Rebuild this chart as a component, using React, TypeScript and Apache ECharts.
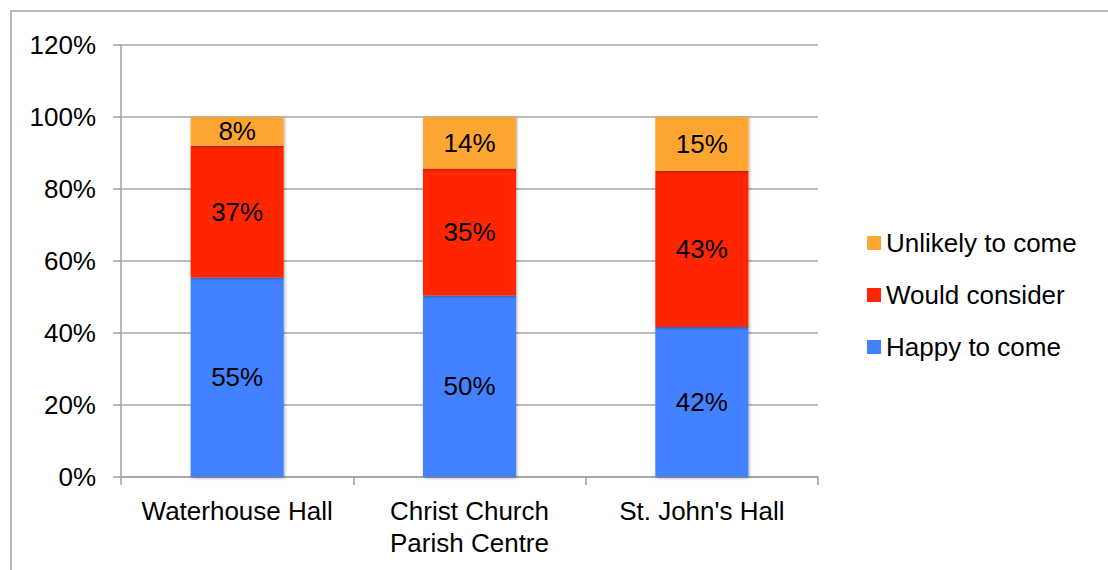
import React, { useEffect, useRef } from "react";
import * as echarts from "echarts";

const categories = ["Waterhouse Hall", "Christ Church\nParish Centre", "St. John's Hall"];
const happyToCome = [55.4, 50.4, 41.7];
const wouldConsider = [36.6, 35.3, 43.3];
const unlikelyToCome = [8.0, 14.3, 15.0];
const yTicks = [0, 20, 40, 60, 80, 100, 120];

const FONT = "'Liberation Sans', Arial, Helvetica, sans-serif";
const FS = 26;

export default function App() {
  const ref = useRef<HTMLDivElement>(null);
  useEffect(() => {
    if (!ref.current) return;
    const chart = echarts.init(ref.current, null, { renderer: "svg" });
    const labelStyle = {
      show: true,
      position: "inside" as const,
      color: "#000",
      fontSize: FS,
      fontFamily: FONT,
      formatter: (p: any) => Math.round(p.value) + "%",
    };
    const barShadow = {
      shadowBlur: 3,
      shadowColor: "rgba(0,0,0,0.35)",
      shadowOffsetX: 1,
      shadowOffsetY: 1,
    };
    const mk = (name: string, data: number[], color: string) => ({
      name,
      type: "bar",
      stack: "total",
      data,
      barWidth: 93,
      itemStyle: { color, ...barShadow },
      label: labelStyle,
    });
    chart.setOption({
      animation: false,
      backgroundColor: "#fff",
      textStyle: { fontFamily: FONT },
      graphic: [
        {
          type: "rect",
          shape: { x: 11, y: 11, width: 1200, height: 700 },
          style: { fill: "none", stroke: "#a3a3a3", lineWidth: 1.5 },
          silent: true,
        },
      ],
      grid: { left: 121, right: 290, top: 45, bottom: 93, containLabel: false },
      legend: {
        orient: "vertical",
        left: 862,
        top: 225,
        itemWidth: 14,
        itemHeight: 14,
        itemGap: 26,
        icon: "rect",
        data: ["Unlikely to come", "Would consider", "Happy to come"],
        textStyle: { fontSize: FS, color: "#000", fontFamily: FONT },
      },
      xAxis: {
        type: "category",
        data: categories,
        axisLine: { lineStyle: { color: "#a0a0a0", width: 1.5 } },
        axisTick: { show: true, length: 8, lineStyle: { color: "#a0a0a0", width: 1.5 } },
        axisLabel: {
          color: "#000",
          fontSize: FS,
          fontFamily: FONT,
          margin: 18,
          lineHeight: 32,
          interval: 0,
        },
      },
      yAxis: {
        type: "value",
        min: yTicks[0],
        max: yTicks[yTicks.length - 1],
        interval: 20,
        axisLine: { show: true, lineStyle: { color: "#a0a0a0", width: 1.5 } },
        axisTick: { show: true, length: 8, lineStyle: { color: "#a0a0a0", width: 1.5 } },
        splitLine: { show: true, lineStyle: { color: "#a6a6a6", width: 1.5 } },
        axisLabel: {
          color: "#000",
          fontSize: FS,
          fontFamily: FONT,
          margin: 25,
          formatter: (v: number) => v + "%",
        },
      },
      series: [
        mk("Happy to come", happyToCome, "#4281ff"),
        mk("Would consider", wouldConsider, "#ff2600"),
        mk("Unlikely to come", unlikelyToCome, "#ffa533"),
      ],
    });
    return () => chart.dispose();
  }, []);
  return (
    <div
      ref={ref}
      style={{ position: "fixed", left: 0, top: 0, width: 1108, height: 570, background: "#fff" }}
    />
  );
}
